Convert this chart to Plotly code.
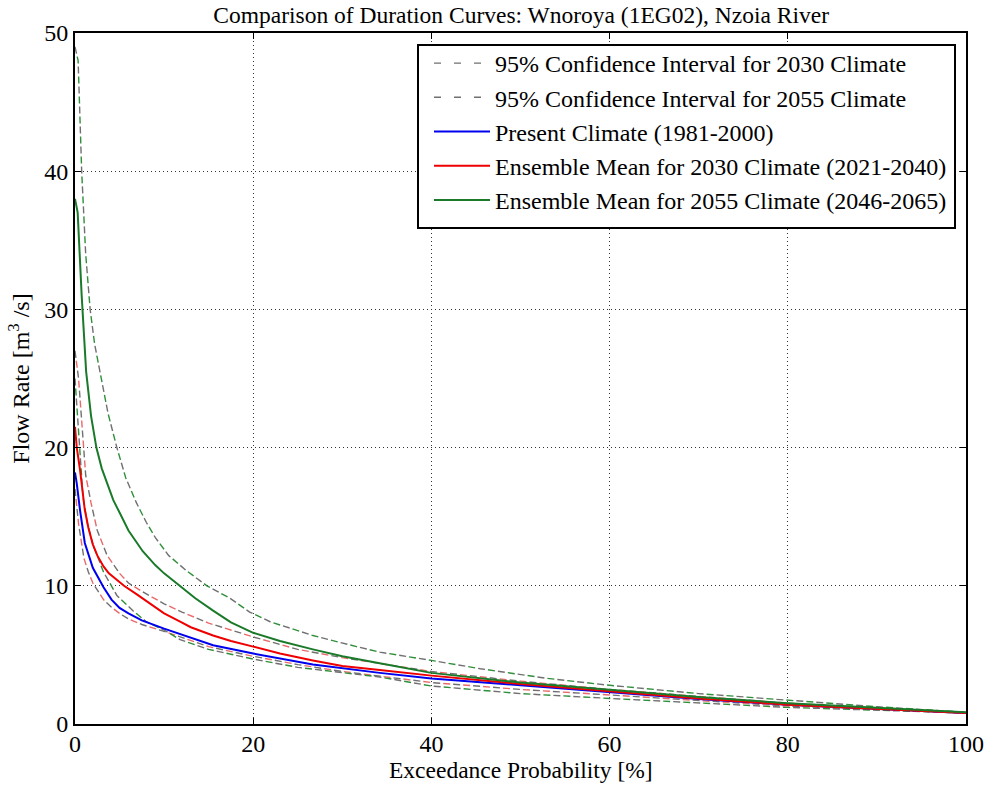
import plotly.graph_objects as go

# Exceedance probability [%] and flow rate [m3/s]
present_x = [0, 0.2, 0.56, 1.1, 2, 3.2, 4.1, 5, 6, 7.5, 10, 11.8, 15.5, 20, 26.7, 34.2, 40, 50, 60, 70, 80, 90, 100]
present_y = [18.2, 17.4, 15.5, 13.1, 11.3, 9.9, 9.0, 8.4, 8.0, 7.5, 6.9, 6.5, 5.7, 5.1, 4.3, 3.7, 3.3, 2.8, 2.3, 1.8, 1.4, 1.1, 0.8]

mean2030_x = [0, 0.2, 0.56, 1.1, 1.5, 2, 2.5, 3.2, 3.8, 4.7, 5.5, 6.9, 8, 10, 11.8, 13, 15.5, 17.5, 20, 23, 26.7, 30, 34.2, 40, 50, 60, 70, 80, 90, 100]
mean2030_y = [21.5, 20.0, 18.4, 15.5, 14.2, 13.0, 12.2, 11.4, 10.9, 10.4, 10.0, 9.4, 8.9, 8.0, 7.4, 7.0, 6.4, 6.0, 5.6, 5.1, 4.6, 4.2, 3.9, 3.5, 2.9, 2.35, 1.85, 1.4, 1.1, 0.8]

mean2055_x = [0, 0.3, 0.75, 1.25, 1.8, 2.4, 3, 4.3, 5, 6, 7.6, 9, 10, 11.8, 13.5, 15.5, 17.5, 20, 23, 26.7, 30, 34.2, 40, 50, 60, 70, 80, 90, 100]
mean2055_y = [38.0, 37.0, 31.0, 25.5, 22.3, 20.0, 18.5, 16.2, 15.3, 14.0, 12.5, 11.5, 10.9, 9.95, 9.1, 8.2, 7.35, 6.6, 6.0, 5.4, 4.9, 4.4, 3.7, 3.0, 2.45, 1.95, 1.5, 1.15, 0.85]

ci2030_up_x = [0, 0.4, 0.8, 1.2, 1.8, 2.5, 3.6, 5, 6, 7.5, 10, 12, 15, 17.5, 20, 25, 30, 40, 50, 60, 70, 80, 90, 100]
ci2030_up_y = [27.0, 25.0, 21.5, 18.0, 16.0, 14.0, 12.2, 10.9, 10.2, 9.6, 8.7, 8.1, 7.3, 6.8, 6.3, 5.4, 4.8, 3.8, 3.1, 2.5, 2.0, 1.5, 1.15, 0.85]

ci2030_lo_x = [0, 0.4, 1, 1.5, 2, 3.2, 4, 5, 6, 7.5, 10, 11.8, 15, 20, 25, 30, 40, 50, 60, 70, 80, 90, 100]
ci2030_lo_y = [17.0, 14.5, 12.0, 11.0, 10.2, 9.0, 8.5, 8.0, 7.6, 7.2, 6.7, 6.3, 5.6, 4.9, 4.3, 3.8, 3.0, 2.5, 2.1, 1.7, 1.3, 1.05, 0.8]

ci2055_up_x = [0, 0.35, 0.75, 1.2, 1.7, 2.2, 2.8, 3.7, 4.7, 5.7, 6.9, 8, 9, 10.5, 12.5, 14.8, 17.4, 19.6, 21.9, 26.7, 31.6, 34.2, 40, 45.5, 53, 60, 70, 80, 90, 100]
ci2055_up_y = [49.0, 48.0, 40.0, 34.0, 30.0, 27.5, 25.5, 22.5, 20.0, 17.8, 16.0, 14.6, 13.5, 12.2, 11.1, 10.0, 9.1, 8.1, 7.4, 6.4, 5.6, 5.2, 4.6, 4.0, 3.3, 2.8, 2.2, 1.7, 1.25, 0.85]

ci2055_lo_x = [0, 0.4, 0.9, 1.4, 2, 3.2, 4.7, 6.5, 8, 10, 11.8, 15, 20, 25, 30, 34.2, 40, 50, 60, 70, 80, 90, 100]
ci2055_lo_y = [25.0, 21.0, 16.4, 14.5, 13.0, 11.0, 9.3, 8.2, 7.4, 6.8, 6.1, 5.4, 4.7, 4.1, 3.7, 3.4, 2.75, 2.2, 1.85, 1.5, 1.2, 1.0, 0.8]

x_ticks = [0, 20, 40, 60, 80, 100]
y_ticks = [0, 10, 20, 30, 40, 50]

FONT = "Liberation Serif"
GRAY = "#707070"

fig = go.Figure()

def ci_pair(xs, ys, overlay_color, name, group, show):
    fig.add_trace(go.Scatter(x=xs, y=ys, mode="lines", name=name, legendgroup=group,
                             showlegend=show,
                             line=dict(color=GRAY, width=1.4, dash="7px,13px")))
    fig.add_trace(go.Scatter(x=xs, y=ys, mode="lines", name=name, legendgroup=group,
                             showlegend=False, hoverinfo="skip",
                             line=dict(color=overlay_color, width=1.4, dash="0px,10px,7px,3px")))

ci_pair(ci2030_up_x, ci2030_up_y, "#e86a6a", "95% Confidence Interval for 2030 Climate", "g1", True)
ci_pair(ci2030_lo_x, ci2030_lo_y, "#e86a6a", "95% Confidence Interval for 2030 Climate", "g1", False)
ci_pair(ci2055_up_x, ci2055_up_y, "#2f8f3a", "95% Confidence Interval for 2055 Climate", "g2", True)
ci_pair(ci2055_lo_x, ci2055_lo_y, "#2f8f3a", "95% Confidence Interval for 2055 Climate", "g2", False)

fig.add_trace(go.Scatter(x=present_x, y=present_y, mode="lines", name="Present Climate (1981-2000)",
                         legendgroup="g3", line=dict(color="#0000ee", width=2)))
fig.add_trace(go.Scatter(x=mean2030_x, y=mean2030_y, mode="lines",
                         name="Ensemble Mean for 2030 Climate (2021-2040)",
                         legendgroup="g4", line=dict(color="#ee0000", width=2)))
fig.add_trace(go.Scatter(x=mean2055_x, y=mean2055_y, mode="lines",
                         name="Ensemble Mean for 2055 Climate (2046-2065)",
                         legendgroup="g5", line=dict(color="#1a7a2a", width=2)))

axis_common = dict(
    showline=True, linecolor="black", linewidth=2, mirror="ticks",
    ticks="inside", ticklen=6, tickwidth=1, tickcolor="black",
    showgrid=True, gridcolor="#333333", gridwidth=1, griddash="1px,3px",
    zeroline=False, automargin=False,
    tickfont=dict(family=FONT, size=24, color="black"),
)

# plot area in pixels: left 75, right 966, top 33, bottom 724
W, H = 989, 785
L, R, T, B = 75, 23, 33, 61
pw, ph = W - L - R, H - T - B

def px_to_paper_x(px):
    return (px - L) / pw

def px_to_paper_y(py):
    return (H - B - py) / ph

fig.update_layout(
    width=W, height=H,
    margin=dict(l=L, r=R, t=T, b=B),
    paper_bgcolor="white", plot_bgcolor="white",
    font=dict(family=FONT, color="black"),
    title=dict(text="Comparison of Duration Curves: Wnoroya (1EG02), Nzoia River",
               x=0.527, xanchor="center", y=0.981, yanchor="middle",
               font=dict(family=FONT, size=23.5, color="black")),
    xaxis=dict(range=[0, 100], tickvals=x_ticks, ticktext=[str(v) for v in x_ticks],
               ticklabelstandoff=-3, **axis_common),
    yaxis=dict(range=[0, 50], tickvals=y_ticks, ticktext=[str(v) for v in y_ticks],
               title=dict(text="Flow Rate [m<sup>3</sup> /s]", standoff=8,
                          font=dict(family=FONT, size=24, color="black")),
               **axis_common),
    legend=dict(x=px_to_paper_x(429), y=px_to_paper_y(41), xanchor="left", yanchor="top",
                bgcolor="rgba(0,0,0,0)", borderwidth=0,
                font=dict(family=FONT, size=24, color="black"),
                tracegroupgap=0, itemwidth=56),
    showlegend=True,
    shapes=[dict(type="rect", xref="paper", yref="paper", layer="above",
                 x0=px_to_paper_x(418), x1=px_to_paper_x(955),
                 y0=px_to_paper_y(228), y1=px_to_paper_y(45),
                 fillcolor="white", line=dict(color="black", width=2))],
    annotations=[dict(text="Exceedance Probability [%]", xref="paper", yref="paper",
                      x=0.5, y=px_to_paper_y(770), xanchor="center", yanchor="middle",
                      showarrow=False, font=dict(family=FONT, size=23.5, color="black"))],
)

fig.write_html("out.html")
